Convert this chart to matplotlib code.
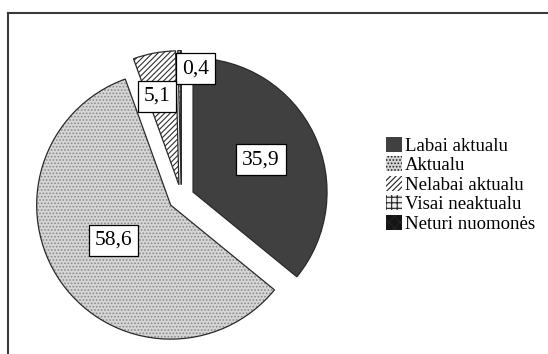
import numpy as np
import matplotlib.pyplot as plt
from matplotlib.lines import Line2D

plt.rcParams['font.family'] = ['Liberation Serif', 'DejaVu Serif']
plt.rcParams['hatch.linewidth'] = 0.8

categories = ['Labai aktualu', 'Aktualu', 'Nelabai aktualu',
              'Visai neaktualu', 'Neturi nuomonės']
values = [35.9, 58.6, 5.1, 0.4, 0.0]
value_labels = ['35,9', '58,6', '5,1', '0,4']

faces = ['#404040', '#d6d6d6', 'white', '#f0f0f0', '#151515']
hatches = [None, '.....', '//////', '+++', 'xxx']
hatch_cols = ['#404040', '#8a8a8a', '#303030', '#505050', '#606060']
# value box placement: fraction of radius and angle nudge from the wedge middle
label_pos = [0.56, 0.50, 0.68, 0.87]
label_turn = [0.0, -3.7, 3.3, -7.7]

fig = plt.figure(figsize=(5.48, 3.54), dpi=100)
ax = fig.add_axes([0, 0, 1, 1])

# frame of the chart area
fig.add_artist(Line2D([8 / 548, 1], [1 - 13 / 354] * 2, color='#3a3a3a', lw=1.5))
fig.add_artist(Line2D([8 / 548] * 2, [0, 1 - 13 / 354], color='#3a3a3a', lw=1.5))

center = (181.3, 354 - 197.6)
radius = 134
explode = [13] * len(values)  # offset in data units (pixels here)

# filled + hatched wedges
wedges, _ = ax.pie(values, explode=explode, startangle=90, counterclock=False,
                   center=center, radius=radius, frame=True,
                   wedgeprops=dict(linewidth=0))
for w, fc, h, hc in zip(wedges, faces, hatches, hatch_cols):
    w.set_facecolor(fc)
    w.set_edgecolor(hc)
    if h:
        w.set_hatch(h)

# outlines on top
ax.pie(values, explode=explode, startangle=90, counterclock=False,
       center=center, radius=radius, frame=True,
       wedgeprops=dict(fill=False, edgecolor='#2a2a2a', linewidth=0.9))
ax.set_xlim(0, 548)
ax.set_ylim(0, 354)
ax.set_aspect('equal')
ax.axis('off')

# value boxes
order = [0, 1, 3, 2]  # 5,1 box drawn over 0,4 box
for i in order:
    w = wedges[i]
    ang = np.deg2rad((w.theta1 + w.theta2) / 2 + label_turn[i])
    cx, cy = w.center
    x = cx + label_pos[i] * radius * np.cos(ang)
    y = cy + label_pos[i] * radius * np.sin(ang)
    ax.text(x, y, value_labels[i], ha='center', va='center', fontsize=15.5,
            bbox=dict(boxstyle='square,pad=0.28', fc='white', ec='black', lw=0.9),
            zorder=5 + order.index(i))

leg = fig.legend(wedges, categories, loc='upper left',
                 bbox_to_anchor=(386 / 548, 1 - 137 / 354), frameon=False,
                 fontsize=13.5, handlelength=0.85, handleheight=0.85,
                 handletextpad=0.15, labelspacing=0.08, borderpad=0,
                 borderaxespad=0)
for h in leg.legend_handles:
    h.set_edgecolor('#222222')

fig.savefig('out.png', dpi=100)
